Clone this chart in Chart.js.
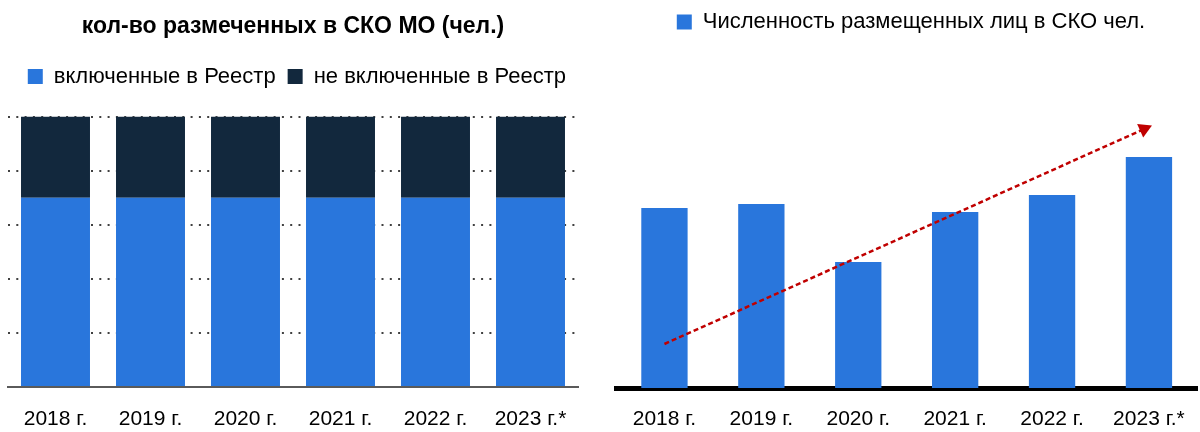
<!DOCTYPE html>
<html lang="ru">
<head>
<meta charset="utf-8">
<title>СКО МО</title>
<script src="https://cdn.jsdelivr.net/npm/chart.js@4.4.1/dist/chart.umd.min.js"></script>
<style>
  html, body { margin: 0; padding: 0; background: #fff; overflow: hidden; }
  #left  { position: absolute; left: 0;     top: 0; width: 600px; height: 432px; }
  #right { position: absolute; left: 600px; top: 0; width: 606px; height: 432px; }
</style>
</head>
<body>
<div id="left"><canvas id="chartLeft"></canvas></div>
<div id="right"><canvas id="chartRight"></canvas></div>
<script>
// ─── Data ─────────────────────────────────────────────────────────────────────

const YEARS = ["2018 г.", "2019 г.", "2020 г.", "2021 г.", "2022 г.", "2023 г.*"];

// left: share of marked people, %
const INCLUDED     = [70, 70, 70, 70, 70, 70];
const NOT_INCLUDED = [30, 30, 30, 30, 30, 30];

// right: number of placed people (relative units, no axis shown)
const PLACED = [180, 184, 126, 176, 193, 231];

// trend arrow: start and end in category-index / value units
const TREND_X = [0, 4.95];
const TREND_Y = [44, 259];

// ─── Config ───────────────────────────────────────────────────────────────────

const FONT       = "'Liberation Sans', Arial, sans-serif";
const BLUE       = "#2976DC";
const NAVY       = "#12283D";
const RED        = "#C00000";
const TEXT_COLOR = "#000000";

Chart.defaults.font.family = FONT;
Chart.defaults.color = TEXT_COLOR;
Chart.defaults.animation = false;

// empty axis used only to reserve vertical room
const spacer = (h) => ({
  type: "category",
  position: "top",
  grid: { display: false },
  border: { display: false },
  ticks: { display: false },
  afterFit: (scale) => { scale.height = h; },
});

// ─── Left chart ───────────────────────────────────────────────────────────────

new Chart(document.getElementById("chartLeft").getContext("2d"), {
  type: "bar",
  data: {
    labels: YEARS,
    datasets: [
      { label: "включенные в Реестр",    data: INCLUDED,     backgroundColor: BLUE, categoryPercentage: 1, barPercentage: 0.726 },
      { label: "не включенные в Реестр", data: NOT_INCLUDED, backgroundColor: NAVY, categoryPercentage: 1, barPercentage: 0.726 },
    ],
  },
  options: {
    responsive: true,
    maintainAspectRatio: false,
    layout: { padding: { left: 8, right: 22, top: 0, bottom: 0 } },
    plugins: {
      title: {
        display: true,
        text: "кол-во размеченных в СКО МО (чел.)",
        font: { size: 23, weight: "bold" },
        color: TEXT_COLOR,
        padding: { top: 13, bottom: 13 },
      },
      legend: {
        align: "end",
        labels: { boxWidth: 15, boxHeight: 15, padding: 12, font: { size: 22 }, color: TEXT_COLOR },
      },
      tooltip: { enabled: false },
    },
    scales: {
      x: {
        stacked: true,
        grid: { display: false, drawTicks: false },
        border: { color: "#5A5A5A", width: 2 },
        ticks: { font: { size: 21 }, color: TEXT_COLOR, padding: 20 },
        afterFit: (scale) => { scale.height = 45; },
      },
      xTop: spacer(19),
      y: {
        stacked: true,
        min: 0,
        max: 100,
        ticks: { display: false, stepSize: 20 },
        grid: { color: "#404040", lineWidth: 2, drawTicks: false },
        border: { display: false, dash: [2, 6.3] },
      },
    },
  },
});

// ─── Right chart ──────────────────────────────────────────────────────────────

new Chart(document.getElementById("chartRight").getContext("2d"), {
  type: "bar",
  data: {
    labels: YEARS,
    datasets: [
      {
        type: "line",
        label: "trend",
        xAxisID: "xTrend",
        data: TREND_X.map((x, i) => ({ x, y: TREND_Y[i] })),
        borderColor: RED,
        borderWidth: 2.5,
        borderDash: [5, 3],
        pointStyle: "triangle",
        pointRadius: [0, 8.6],
        pointRotation: [0, 66],
        pointBackgroundColor: RED,
        pointBorderWidth: 0,
        order: 0,
      },
      {
        label: "Численность размещенных лиц в СКО чел.",
        data: PLACED,
        backgroundColor: BLUE,
        categoryPercentage: 1,
        barPercentage: 0.478,
        grouped: false,
        order: 1,
      },
    ],
  },
  options: {
    responsive: true,
    maintainAspectRatio: false,
    layout: { padding: { left: 16, right: 0, top: 0, bottom: 0 } },
    plugins: {
      legend: {
        labels: {
          boxWidth: 15, boxHeight: 15, padding: 11, font: { size: 22 }, color: TEXT_COLOR,
          filter: (item) => item.text !== "trend",
        },
      },
      tooltip: { enabled: false },
    },
    scales: {
      x: {
        grid: { display: false, drawTicks: false },
        border: { color: "#000000", width: 5 },
        ticks: { font: { size: 21 }, color: TEXT_COLOR, padding: 19 },
        afterFit: (scale) => { scale.height = 44; },
      },
      xTrend: {
        type: "linear",
        min: -0.5,
        max: 5.5,
        bounds: "data",
        offset: false,
        grid: { offset: false },
        display: false,
      },
      xTop: spacer(75),
      y: { min: 0, max: 270, display: false },
    },
  },
});
</script>
</body>
</html>
